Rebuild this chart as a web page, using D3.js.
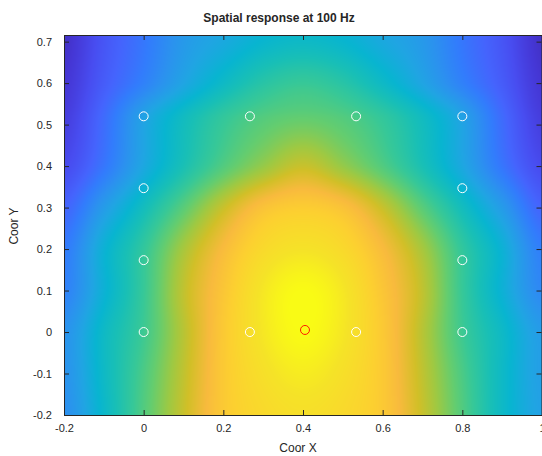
<!DOCTYPE html>
<html>
<head>
<meta charset="utf-8">
<script src="https://cdn.jsdelivr.net/npm/d3@7"></script>
<style>
  body { margin: 0; background: #fff; }
  text { font-family: "Liberation Sans", Arial, Helvetica, sans-serif; fill: #262626; }
</style>
</head>
<body>
<svg id="chart"></svg>
<script>
const width = 542, height = 456;

// sampled field (colour limits 0..1), rows = gridY, columns = gridX
const gridX = [-0.2, -0.1, 0, 0.1, 0.2, 0.3, 0.4, 0.5, 0.6, 0.7, 0.8, 0.9, 1.0];
const gridY = [-0.2, -0.1, 0, 0.1, 0.2, 0.3, 0.4, 0.52, 0.6, 0.716];
const response = [
  [0.31, 0.46, 0.61, 0.75, 0.87, 0.92, 0.94, 0.92, 0.87, 0.75, 0.61, 0.47, 0.37],
  [0.32, 0.47, 0.60, 0.74, 0.87, 0.94, 0.97, 0.94, 0.87, 0.74, 0.60, 0.47, 0.36],
  [0.32, 0.47, 0.58, 0.73, 0.87, 0.96, 1.00, 0.96, 0.87, 0.73, 0.58, 0.47, 0.35],
  [0.27, 0.43, 0.57, 0.74, 0.86, 0.96, 1.00, 0.96, 0.86, 0.74, 0.57, 0.43, 0.29],
  [0.25, 0.43, 0.56, 0.71, 0.83, 0.92, 0.95, 0.92, 0.83, 0.71, 0.56, 0.43, 0.26],
  [0.19, 0.35, 0.49, 0.62, 0.75, 0.85, 0.88, 0.85, 0.75, 0.62, 0.49, 0.35, 0.19],
  [0.12, 0.24, 0.39, 0.51, 0.61, 0.69, 0.75, 0.69, 0.61, 0.51, 0.39, 0.24, 0.12],
  [0.08, 0.21, 0.37, 0.48, 0.56, 0.61, 0.63, 0.61, 0.56, 0.48, 0.37, 0.21, 0.08],
  [0.06, 0.17, 0.27, 0.38, 0.47, 0.54, 0.57, 0.54, 0.47, 0.38, 0.27, 0.17, 0.06],
  [0.04, 0.15, 0.24, 0.34, 0.39, 0.44, 0.46, 0.44, 0.39, 0.34, 0.24, 0.15, 0.04]
];

// microphone positions and source
const micX = [0, 0.2667, 0.5333, 0.8, 0, 0.8, 0, 0.8, 0, 0.2667, 0.5333, 0.8];
const micY = [0, 0, 0, 0, 0.1733, 0.1733, 0.3467, 0.3467, 0.52, 0.52, 0.52, 0.52];
const srcX = [0.405];
const srcY = [0.005];

const xTicks = [-0.2, 0, 0.2, 0.4, 0.6, 0.8, 1];
const yTicks = [-0.2, -0.1, 0, 0.1, 0.2, 0.3, 0.4, 0.5, 0.6, 0.7];

// parula colormap
const parula = [
  [0.2422,0.1504,0.6603],[0.2706,0.2147,0.8364],[0.2813,0.3006,0.9414],[0.2699,0.3892,0.9906],
  [0.1963,0.4847,0.9892],[0.1687,0.5703,0.9359],[0.1248,0.6459,0.8883],[0.0297,0.7082,0.8163],
  [0.0964,0.7500,0.7120],[0.2161,0.7843,0.5923],[0.3909,0.8029,0.4354],[0.6174,0.7876,0.2612],
  [0.8203,0.7498,0.1535],[0.9728,0.7298,0.2394],[0.9892,0.8136,0.1885],[0.9610,0.8890,0.1537],
  [0.9769,0.9839,0.0805]
];
const stopT = parula.map((d, i) => i === parula.length - 1 ? 1 : i * 4 / 63);
const color = d3.scaleLinear()
  .domain(stopT)
  .range(parula.map(c => d3.rgb(c[0] * 255, c[1] * 255, c[2] * 255)))
  .clamp(true);

const x = d3.scaleLinear().domain([-0.2, 1.0]).range([64, 542]);
const y = d3.scaleLinear().domain([-0.2, 0.716]).range([415, 35]);

const svg = d3.select("#chart").attr("width", width).attr("height", height);

// smooth (catmull-rom) lookup in the grid, like shading interp
function cr(p0, p1, p2, p3, t) {
  return 0.5 * ((2 * p1) + (-p0 + p2) * t + (2 * p0 - 5 * p1 + 4 * p2 - p3) * t * t + (-p0 + 3 * p1 - 3 * p2 + p3) * t * t * t);
}
function idx(arr, v) {
  const i = Math.max(0, Math.min(arr.length - 2, d3.bisectRight(arr, v) - 1));
  const t = Math.max(0, Math.min(1, (v - arr[i]) / (arr[i + 1] - arr[i])));
  return [i, t];
}
const clampI = (i, n) => Math.max(0, Math.min(n - 1, i));
function sample(px, py) {
  const [i, tx] = idx(gridX, px);
  const [j, ty] = idx(gridY, py);
  const nx = gridX.length, ny = gridY.length;
  const rows = [];
  for (let k = -1; k <= 2; k++) {
    const row = response[clampI(j + k, ny)];
    rows.push(cr(row[clampI(i - 1, nx)], row[i], row[clampI(i + 1, nx)], row[clampI(i + 2, nx)], tx));
  }
  return cr(rows[0], rows[1], rows[2], rows[3], ty);
}

const x0 = x.range()[0], x1 = x.range()[1];
const y0 = y.range()[1], y1 = y.range()[0];
const cw = Math.round(x1 - x0), ch = Math.round(y1 - y0);
const canvas = document.createElement("canvas");
canvas.width = cw; canvas.height = ch;
const ctx = canvas.getContext("2d");
const img = ctx.createImageData(cw, ch);
for (let r = 0; r < ch; r++) {
  const dy = y.invert(y0 + r + 0.5);
  for (let c = 0; c < cw; c++) {
    const dx = x.invert(x0 + c + 0.5);
    const col = d3.rgb(color(sample(dx, dy)));
    const k = (r * cw + c) * 4;
    img.data[k] = col.r; img.data[k + 1] = col.g; img.data[k + 2] = col.b; img.data[k + 3] = 255;
  }
}
ctx.putImageData(img, 0, 0);

svg.append("image")
  .attr("x", x0).attr("y", y0)
  .attr("width", cw).attr("height", ch)
  .attr("preserveAspectRatio", "none")
  .attr("href", canvas.toDataURL());

// circles
svg.append("g").selectAll("circle")
  .data(micX.map((d, i) => [d, micY[i]]))
  .enter().append("circle")
  .attr("cx", d => x(d[0]))
  .attr("cy", d => y(d[1]))
  .attr("r", 4.5)
  .attr("fill", "none")
  .attr("stroke", "#fff")
  .attr("stroke-width", 1);

svg.append("g").selectAll("circle")
  .data(srcX.map((d, i) => [d, srcY[i]]))
  .enter().append("circle")
  .attr("cx", d => x(d[0]))
  .attr("cy", d => y(d[1]))
  .attr("r", 4.5)
  .attr("fill", "none")
  .attr("stroke", "#ff1a00")
  .attr("stroke-width", 1);

// axes box with inward ticks
const fmt = d => String(d);
const styleAxis = g => {
  g.selectAll("path").attr("stroke", "#262626");
  g.selectAll("line").attr("stroke", "#262626");
  g.selectAll("text").attr("fill", "#262626").style("font-size", "11px")
    .style("font-family", "'Liberation Sans', Arial, Helvetica, sans-serif");
};

svg.append("g").attr("transform", `translate(0,${y1})`)
  .call(d3.axisBottom(x).tickValues(xTicks).tickFormat(fmt).tickSizeInner(-5).tickSizeOuter(0).tickPadding(9))
  .call(styleAxis);
svg.append("g").attr("transform", `translate(0,${y0})`)
  .call(d3.axisTop(x).tickValues(xTicks).tickFormat("").tickSizeInner(-5).tickSizeOuter(0))
  .call(styleAxis);
svg.append("g").attr("transform", `translate(${x0},0)`)
  .call(d3.axisLeft(y).tickValues(yTicks).tickFormat(fmt).tickSizeInner(-5).tickSizeOuter(0).tickPadding(12))
  .call(styleAxis);
svg.append("g").attr("transform", `translate(${x1 - 0.5},0)`)
  .call(d3.axisRight(y).tickValues(yTicks).tickFormat("").tickSizeInner(-5).tickSizeOuter(0))
  .call(styleAxis);

svg.selectAll(".domain").attr("fill", "none");

// labels
svg.append("text")
  .attr("x", 279).attr("y", 22)
  .attr("text-anchor", "middle")
  .style("font-size", "12px").style("font-weight", "bold")
  .attr("fill", "#000")
  .text("Spatial response at 100 Hz");

svg.append("text")
  .attr("x", 298).attr("y", 452)
  .attr("text-anchor", "middle")
  .style("font-size", "12px")
  .text("Coor X");

svg.append("text")
  .attr("transform", "translate(18,226) rotate(-90)")
  .attr("text-anchor", "middle")
  .style("font-size", "12px")
  .text("Coor Y");
</script>
</body>
</html>
